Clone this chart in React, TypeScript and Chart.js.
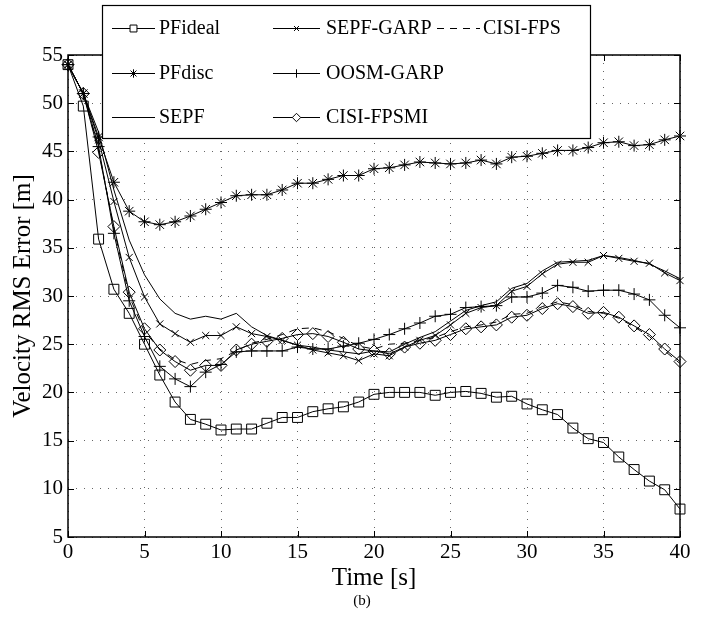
import React, { useEffect, useRef } from "react";
import { Chart, registerables } from "chart.js";
import { drawPoint } from "chart.js/helpers";

Chart.register(...registerables);

const times = [0, 1, 2, 3, 4, 5, 6, 7, 8, 9, 10, 11, 12, 13, 14, 15, 16, 17, 18, 19, 20, 21, 22, 23, 24, 25, 26, 27, 28, 29, 30, 31, 32, 33, 34, 35, 36, 37, 38, 39, 40];

const pfIdeal = [54.0, 49.7, 35.9, 30.7, 28.2, 25.0, 21.8, 19.0, 17.2, 16.7, 16.1, 16.2, 16.2, 16.8, 17.4, 17.4, 18.0, 18.3, 18.5, 19.0, 19.8, 20.0, 20.0, 20.0, 19.7, 20.0, 20.1, 19.9, 19.5, 19.6, 18.8, 18.2, 17.7, 16.3, 15.2, 14.8, 13.3, 12.0, 10.8, 9.9, 7.9];
const pfDisc = [54.0, 51.0, 46.5, 41.8, 38.8, 37.7, 37.4, 37.7, 38.3, 39.0, 39.7, 40.4, 40.5, 40.5, 41.0, 41.7, 41.7, 42.1, 42.5, 42.5, 43.2, 43.3, 43.6, 43.9, 43.8, 43.7, 43.8, 44.1, 43.7, 44.4, 44.5, 44.8, 45.1, 45.1, 45.4, 45.9, 46.0, 45.6, 45.7, 46.2, 46.6];
const sepf = [54.0, 51.0, 47.0, 41.0, 35.8, 32.2, 29.7, 28.2, 27.6, 27.9, 27.6, 28.2, 26.8, 25.9, 25.4, 24.9, 24.7, 24.4, 24.2, 24.0, 24.3, 24.2, 25.0, 25.7, 26.3, 27.4, 28.5, 29.0, 29.4, 30.8, 31.3, 32.6, 33.5, 33.6, 33.7, 34.2, 34.0, 33.7, 33.3, 32.6, 31.8];
const sepfGarp = [54.0, 51.0, 46.2, 39.8, 34.0, 29.9, 27.1, 26.1, 25.2, 25.9, 25.9, 26.8, 26.1, 25.8, 25.4, 24.9, 24.4, 24.1, 23.8, 23.3, 24.0, 23.8, 24.7, 25.4, 25.9, 27.0, 28.2, 28.8, 29.0, 30.5, 31.0, 32.3, 33.3, 33.5, 33.5, 34.2, 33.9, 33.6, 33.4, 32.4, 31.6];
const oosmGarp = [54.0, 51.0, 45.5, 36.5, 29.5, 25.8, 22.7, 21.4, 20.6, 22.1, 22.9, 24.2, 24.3, 24.3, 24.3, 24.7, 24.5, 24.5, 24.8, 25.1, 25.5, 26.0, 26.6, 27.2, 27.9, 28.1, 28.8, 28.9, 29.0, 29.9, 29.9, 30.3, 31.1, 30.9, 30.5, 30.6, 30.6, 30.2, 29.6, 28.0, 26.7];
const cisiFpsmi = [54.0, 51.0, 44.9, 37.2, 30.4, 26.6, 24.4, 23.2, 22.3, 22.8, 22.8, 24.4, 25.0, 25.3, 25.6, 26.0, 26.1, 25.8, 25.2, 24.5, 24.3, 24.0, 24.7, 25.1, 25.4, 26.0, 26.6, 26.8, 27.0, 27.8, 28.0, 28.7, 29.2, 28.9, 28.2, 28.3, 27.8, 26.9, 26.0, 24.5, 23.2];
const cisiFps = [54.0, 51.0, 45.2, 37.0, 30.0, 26.3, 24.5, 23.4, 22.9, 23.3, 23.5, 24.3, 25.1, 25.5, 26.0, 26.6, 26.7, 26.3, 25.6, 24.8, 24.5, 25.0, 25.1, 25.4, 25.7, 26.3, 26.8, 27.0, 27.3, 28.1, 28.2, 28.9, 29.4, 29.1, 28.4, 28.2, 27.7, 26.8, 25.8, 24.3, 23.0];

const seriesLabels = ["PFideal", "PFdisc", "SEPF", "SEPF-GARP", "OOSM-GARP", "CISI-FPSMI", "CISI-FPS"];
const xTitle = "Time [s]";
const yTitle = "Velocity RMS Error [m]";
const caption = "(b)";

const SERIF = '"Liberation Serif", "Times New Roman", serif';

const boxPlugin = {
  id: "boxAndTicks",
  afterDatasetsDraw(chart: any) {
    const { ctx, chartArea: a, scales } = chart;
    ctx.save();
    ctx.strokeStyle = "#000";
    ctx.lineWidth = 1;
    const tl = 6;
    ctx.beginPath();
    scales.x.ticks.forEach((t: any) => {
      const px = Math.round(scales.x.getPixelForValue(t.value)) + 0.5;
      ctx.moveTo(px, a.bottom);
      ctx.lineTo(px, a.bottom - tl);
      ctx.moveTo(px, a.top);
      ctx.lineTo(px, a.top + tl);
    });
    scales.y.ticks.forEach((t: any) => {
      const py = Math.round(scales.y.getPixelForValue(t.value)) + 0.5;
      ctx.moveTo(a.left, py);
      ctx.lineTo(a.left + tl, py);
      ctx.moveTo(a.right, py);
      ctx.lineTo(a.right - tl, py);
    });
    ctx.stroke();
    ctx.lineWidth = 1.5;
    ctx.strokeRect(a.left, a.top, a.right - a.left, a.bottom - a.top);
    ctx.restore();
  },
  afterDraw(chart: any) {
    const { ctx, chartArea: a } = chart;
    ctx.save();
    const lx = a.left + 34;
    const ly = 5;
    const lw = 488;
    const lh = 133;
    ctx.fillStyle = "#fff";
    ctx.fillRect(lx, ly, lw, lh);
    ctx.strokeStyle = "#000";
    ctx.lineWidth = 1.2;
    ctx.strokeRect(lx + 0.5, ly + 0.5, lw, lh);
    const cols = [
      { x1: lx + 10, x2: lx + 53, tx: lx + 57 },
      { x1: lx + 171, x2: lx + 218, tx: lx + 224 },
      { x1: lx + 335, x2: lx + 378, tx: lx + 381 },
    ];
    const rows = [ly + 23, ly + 68, ly + 112];
    const place = [
      [0, 0], [0, 1], [0, 2], [1, 0], [1, 1], [1, 2], [2, 0],
    ];
    ctx.font = `20px ${SERIF}`;
    ctx.textBaseline = "middle";
    ctx.textAlign = "left";
    chart.data.datasets.forEach((ds: any, i: number) => {
      const [c, r] = place[i];
      const col = cols[c];
      const y = rows[r];
      ctx.save();
      ctx.strokeStyle = "#000";
      ctx.lineWidth = 1;
      ctx.setLineDash(ds.borderDash || []);
      ctx.beginPath();
      ctx.moveTo(col.x1, y + 0.5);
      ctx.lineTo(col.x2, y + 0.5);
      ctx.stroke();
      ctx.setLineDash([]);
      if (ds.pointRadius > 0) {
        ctx.fillStyle = "#fff";
        drawPoint(ctx, { pointStyle: ds.pointStyle, radius: ds.pointRadius * 0.7, rotation: 0, borderWidth: 1 }, (col.x1 + col.x2) / 2, y + 0.5);
      }
      ctx.restore();
      ctx.fillStyle = "#000";
      ctx.fillText(ds.label, col.tx, y + 1);
    });
    ctx.font = `15px ${SERIF}`;
    ctx.textAlign = "center";
    ctx.fillStyle = "#000";
    ctx.fillText(caption, 362, 601);
    ctx.restore();
  },
};

function mk(label: string, values: number[], pointStyle: any, pointRadius: number, dash?: number[]) {
  return {
    label,
    data: times.map((t, i) => ({ x: t, y: values[i] })),
    borderColor: "#000",
    borderWidth: 1,
    borderDash: dash || [],
    pointStyle: pointStyle || "circle",
    pointRadius,
    pointHoverRadius: pointRadius,
    pointBorderColor: "#000",
    pointBackgroundColor: "rgba(0,0,0,0)",
    pointBorderWidth: 1,
    tension: 0,
    fill: false,
    clip: false,
  };
}

export default function App() {
  const ref = useRef<HTMLCanvasElement>(null);
  useEffect(() => {
    if (!ref.current) return;
    const chart = new Chart(ref.current, {
      type: "line",
      data: {
        datasets: [
          mk(seriesLabels[0], pfIdeal, "rect", 7),
          mk(seriesLabels[1], pfDisc, "star", 6),
          mk(seriesLabels[2], sepf, false, 0),
          mk(seriesLabels[3], sepfGarp, "crossRot", 5),
          mk(seriesLabels[4], oosmGarp, "cross", 6),
          mk(seriesLabels[5], cisiFpsmi, "rectRot", 6),
          mk(seriesLabels[6], cisiFps, false, 0, [7, 6]),
        ] as any,
      },
      options: {
        animation: false,
        responsive: false,
        events: [],
        layout: { padding: { top: 55, right: 27, left: 0, bottom: 0 } },
        plugins: { legend: { display: false }, tooltip: { enabled: false } },
        scales: {
          x: {
            type: "linear",
            min: 0,
            max: 40,
            ticks: { stepSize: 5, color: "#000", font: { family: SERIF, size: 21 }, padding: 3, maxRotation: 0 },
            grid: { color: "rgba(0,0,0,0.6)", lineWidth: 1, drawTicks: false },
            border: { display: false, dash: [1, 7] },
            title: { display: true, text: xTitle, color: "#000", font: { family: SERIF, size: 25 }, padding: { top: 0, bottom: 26 } },
            afterFit: (s: any) => { s.height = 82; },
          },
          y: {
            type: "linear",
            min: 5,
            max: 55,
            ticks: { stepSize: 5, color: "#000", font: { family: SERIF, size: 21 }, padding: 5 },
            grid: { color: "rgba(0,0,0,0.6)", lineWidth: 1, drawTicks: false },
            border: { display: false, dash: [1, 7] },
            title: { display: true, text: yTitle, color: "#000", font: { family: SERIF, size: 25 }, padding: { top: 8, bottom: 0 } },
            afterFit: (s: any) => { s.width = 68; },
          },
        },
      },
      plugins: [boxPlugin],
    });
    return () => chart.destroy();
  }, []);
  return (
    <div style={{ position: "absolute", left: 0, top: 0, width: 707, height: 619, background: "#fff" }}>
      <canvas ref={ref} width={707} height={619} style={{ display: "block" }} />
    </div>
  );
}
